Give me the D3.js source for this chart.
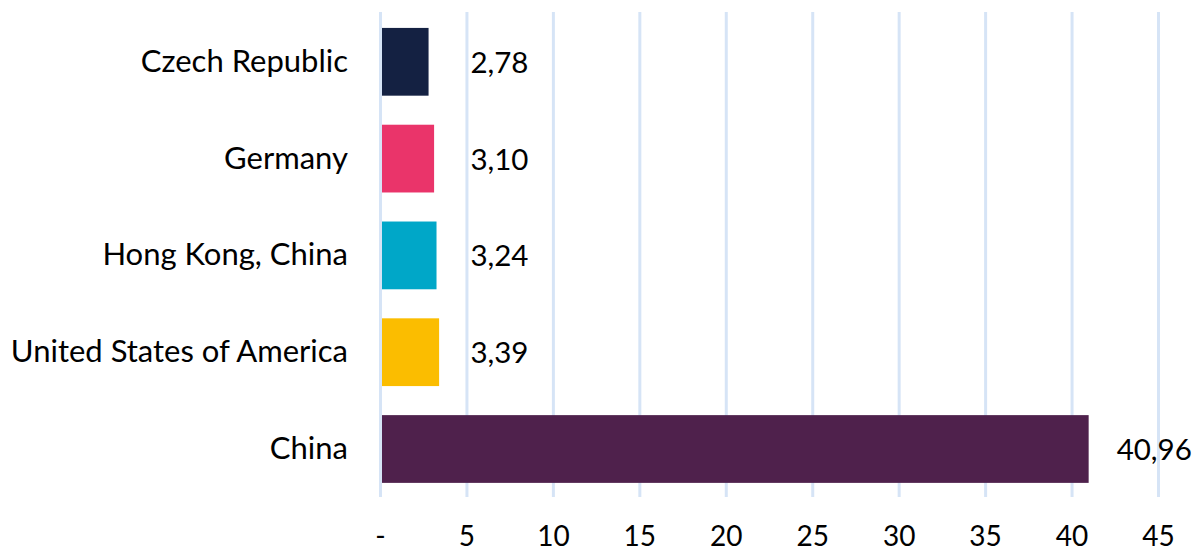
<!DOCTYPE html>
<html><head><meta charset="utf-8">
<script src="https://cdn.jsdelivr.net/npm/d3@7"></script>
<style>body{margin:0;background:#fff}svg{display:block}text{font-family:Lato,"Open Sans",sans-serif;fill:#000}</style>
</head><body><svg id="c" width="1199" height="551"></svg>
<script>
const categories = ["Czech Republic","Germany","Hong Kong, China","United States of America","China"];
const values = [2.78, 3.10, 3.24, 3.39, 40.96];
const valueLabels = ["2,78","3,10","3,24","3,39","40,96"];
const colors = ["#142142","#ea346a","#00a7c8","#fbbd00","#4f214c"];
const tickValues = [0,5,10,15,20,25,30,35,40,45];
const tickLabels = ["-","5","10","15","20","25","30","35","40","45"];

const svg = d3.select("#c");
const x = d3.scaleLinear().domain([0,45]).range([380.5,1158.5]);
const y = d3.scaleBand().domain(categories).range([13.4,497.4]).paddingInner(0.3).paddingOuter(0.15);

// gridlines
svg.append("g").selectAll("line").data(tickValues).join("line")
  .attr("x1",d=>x(d)).attr("x2",d=>x(d)).attr("y1",12).attr("y2",497)
  .attr("stroke","#d6e4f6").attr("stroke-width",3);

// tick labels
svg.append("g").selectAll("text").data(tickValues).join("text")
  .attr("x",d=>x(d)).attr("y",546).attr("text-anchor","middle")
  .attr("font-size",28).text((d,i)=>tickLabels[i]);

// bars
svg.append("g").selectAll("rect").data(values).join("rect")
  .attr("x",x(0)+1.5).attr("y",(d,i)=>y(categories[i]))
  .attr("width",d=>x(d)-x(0)-1.5).attr("height",y.bandwidth())
  .attr("fill",(d,i)=>colors[i]);

// value labels
svg.append("g").selectAll("text").data(values).join("text")
  .attr("x",d=>Math.max(x(d)+28, x(5)+3.5))
  .attr("y",(d,i)=>y(categories[i])+y.bandwidth()/2+11)
  .attr("font-size",29.5).text((d,i)=>valueLabels[i]);

// category labels
svg.append("g").selectAll("text").data(categories).join("text")
  .attr("x",348).attr("y",d=>y(d)+y.bandwidth()/2+10)
  .attr("text-anchor","end").attr("font-size",31).text(d=>d);
</script></body></html>
